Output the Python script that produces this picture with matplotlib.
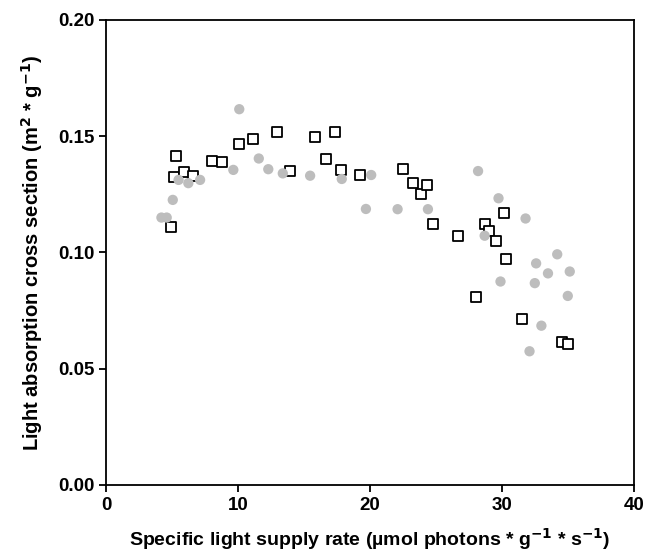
import matplotlib
matplotlib.use('Agg')
import matplotlib.pyplot as plt

# grey circles
circ_x = [4.2, 4.6, 5.06, 5.5, 6.24, 7.13, 9.65, 10.1, 11.58, 12.3, 13.4, 15.47, 17.87,
          19.7, 20.1, 22.1, 24.4, 28.2, 28.7, 29.75, 29.9, 31.8, 32.1, 32.5, 32.6,
          33.0, 33.5, 34.2, 35.0, 35.15]
circ_y = [0.115, 0.115, 0.1226, 0.1312, 0.1298, 0.1312, 0.1355, 0.1616, 0.1404, 0.1358,
          0.134, 0.133, 0.1316, 0.1187, 0.1333, 0.1186, 0.1186, 0.135, 0.1072, 0.1233,
          0.0875, 0.1146, 0.0575, 0.0868, 0.0953, 0.0685, 0.091, 0.0992, 0.0813, 0.0918]

# open squares
sq_x = [4.93, 5.15, 5.3, 5.9, 6.6, 8.0, 8.8, 10.06, 11.17, 12.94, 13.95, 15.85, 16.66,
        17.36, 17.8, 19.26, 22.5, 23.3, 23.9, 24.3, 24.8, 26.7, 28.05, 28.7, 29.0,
        29.57, 30.2, 30.3, 31.5, 34.55, 35.05]
sq_y = [0.111, 0.1323, 0.1416, 0.1348, 0.1329, 0.1395, 0.139, 0.1465, 0.149, 0.152,
        0.1352, 0.1495, 0.140, 0.152, 0.1355, 0.1332, 0.136, 0.130, 0.125, 0.129,
        0.1121, 0.1071, 0.081, 0.1123, 0.1092, 0.105, 0.1169, 0.097, 0.0713, 0.0615, 0.0608]

plt.rcParams['font.family'] = ['Liberation Sans', 'DejaVu Sans']
plt.rcParams['font.weight'] = 'bold'
plt.rcParams['mathtext.default'] = 'bf'

fig = plt.figure(figsize=(6.48, 5.53), dpi=100)
ax = fig.add_axes([0.1636, 0.123, 0.8144, 0.841])

ax.scatter(sq_x, sq_y, marker='s', s=42, facecolors='white', edgecolors='black',
           linewidths=1.3, zorder=2)
ax.scatter(circ_x, circ_y, marker='o', s=55, color='#bdbdbd', edgecolors='none', zorder=3)

ax.set_xlim(0, 40)
ax.set_ylim(0, 0.20)
ax.set_xticks([0, 10, 20, 30, 40])
ax.set_yticks([0.00, 0.05, 0.10, 0.15, 0.20])
ax.set_yticklabels(['0.00', '0.05', '0.10', '0.15', '0.20'])

for s in ax.spines.values():
    s.set_linewidth(1.3)
ax.tick_params(direction='out', length=5, width=1.3, labelsize=13.5, top=False, right=False)
for lab in ax.get_xticklabels() + ax.get_yticklabels():
    lab.set_fontweight('bold')

ax.set_xlabel(r'Specific light supply rate (µmol photons * g$^{-1}$ * s$^{-1}$)',
              fontsize=14, fontweight='bold', labelpad=9)
ax.set_ylabel(r'Light absorption cross section (m$^{2}$ * g$^{-1}$)',
              fontsize=14.5, fontweight='bold', labelpad=9)

fig.savefig('out.png', dpi=100)
